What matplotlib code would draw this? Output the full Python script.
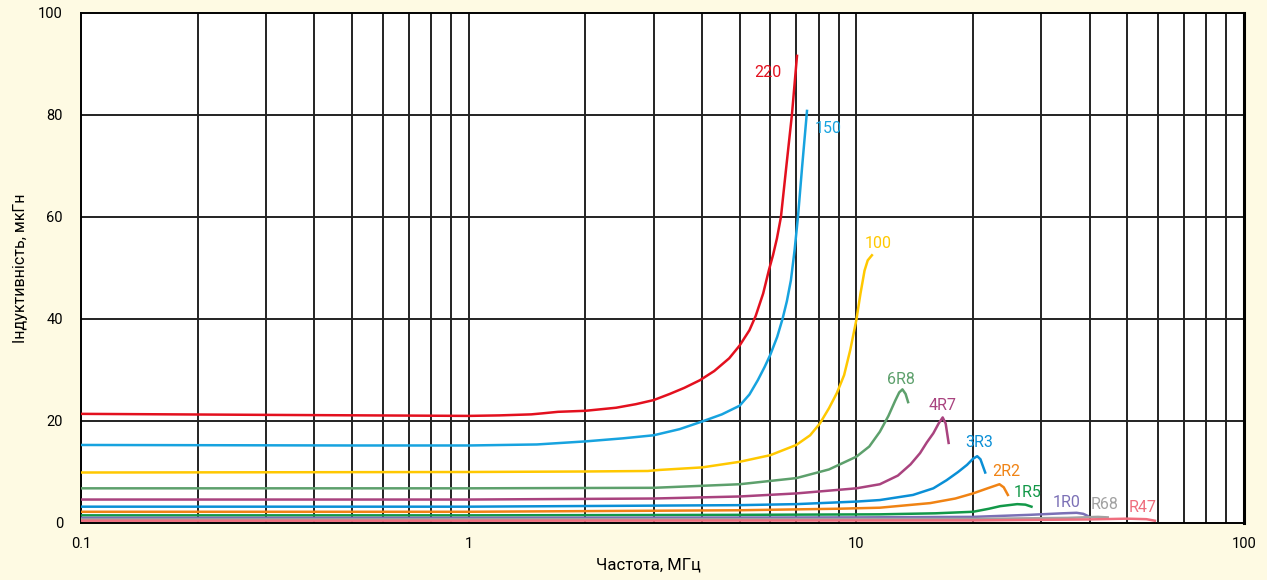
import matplotlib
matplotlib.use("Agg")
import matplotlib.pyplot as plt
from matplotlib.ticker import FixedLocator, NullLocator, FixedFormatter

plt.rcParams['font.family'] = ['Roboto', 'DejaVu Sans']

BG = '#FEFAE3'

# frequency (MHz) / inductance (uH) for each part
f_220 = [0.1, 0.3, 1.0, 1.2, 1.45, 1.55, 1.7, 2.0, 2.4, 2.7, 3.0, 3.3, 3.6, 3.95, 4.3,
         4.7, 5.0, 5.3, 5.5, 5.75, 5.95, 6.1, 6.24, 6.39, 6.6, 6.82, 7.03]
L_220 = [21.4, 21.2, 21.0, 21.1, 21.3, 21.5, 21.8, 22.0, 22.6, 23.3, 24.1, 25.3, 26.5, 28.0, 29.8,
         32.3, 34.8, 37.8, 40.6, 45.0, 49.6, 52.6, 55.8, 60.0, 70.0, 80.0, 91.6]

f_150 = [0.1, 0.5, 1.0, 1.5, 2.0, 2.5, 3.0, 3.5, 4.0, 4.5, 5.0, 5.3, 5.57, 5.8, 6.0,
         6.25, 6.45, 6.62, 6.78, 6.93, 7.07, 7.25, 7.46]
L_150 = [15.3, 15.2, 15.2, 15.4, 16.0, 16.6, 17.2, 18.4, 19.9, 21.3, 23.0, 25.2, 28.0, 30.6, 33.0,
         36.5, 40.0, 43.5, 47.6, 53.5, 60.0, 70.0, 80.8]

f_100 = [0.1, 1.0, 2.0, 2.9, 3.1, 4.0, 5.0, 6.0, 7.0, 7.6, 8.05, 8.5, 8.91, 9.3, 9.65,
         10.0, 10.25, 10.5, 10.7, 10.97]
L_100 = [9.9, 10.0, 10.1, 10.2, 10.4, 10.9, 12.0, 13.3, 15.3, 17.2, 19.5, 22.5, 25.5, 29.0, 34.0,
         39.8, 45.0, 49.5, 51.5, 52.5]

f_6R8 = [0.1, 1.0, 3.0, 5.0, 7.0, 8.5, 10.0, 10.8, 11.5, 12.1, 12.6, 12.9, 13.15, 13.4, 13.6]
L_6R8 = [6.8, 6.8, 6.9, 7.6, 8.8, 10.5, 13.0, 15.0, 17.9, 21.0, 24.0, 25.6, 26.2, 25.3, 23.7]

f_4R7 = [0.1, 1.0, 3.0, 5.0, 7.0, 10.0, 11.5, 12.8, 13.8, 14.6, 15.2, 15.8, 16.3, 16.7,
         17.0, 17.3]
L_4R7 = [4.6, 4.6, 4.8, 5.2, 5.8, 6.8, 7.6, 9.3, 11.5, 13.7, 15.8, 17.6, 19.5, 20.7,
         19.5, 15.7]

f_3R3 = [0.1, 1.0, 5.0, 7.0, 10.0, 11.5, 14.0, 15.8, 17.1, 18.3, 19.3, 20.0, 20.5, 20.9, 21.5]
L_3R3 = [3.2, 3.2, 3.5, 3.7, 4.2, 4.5, 5.5, 6.8, 8.4, 10.0, 11.4, 12.6, 13.1, 12.5, 9.9]

f_2R2 = [0.1, 1.0, 5.0, 9.0, 11.5, 15.5, 18.0, 20.0, 21.8, 23.4, 24.0, 24.6]
L_2R2 = [2.2, 2.2, 2.5, 2.8, 3.0, 3.9, 4.8, 5.8, 6.8, 7.6, 7.0, 5.5]

f_1R5 = [0.1, 1.0, 5.0, 11.5, 16.0, 20.0, 22.0, 23.5, 26.0, 27.3, 28.3]
L_1R5 = [1.5, 1.5, 1.6, 1.7, 1.9, 2.2, 2.8, 3.3, 3.7, 3.6, 3.2]

f_1R0 = [0.1, 1.0, 10.0, 20.0, 28.0, 34.0, 37.0, 38.5, 39.5]
L_1R0 = [1.0, 1.0, 1.1, 1.2, 1.6, 1.9, 2.0, 1.8, 1.4]

f_R68 = [0.1, 5.0, 20.0, 35.0, 42.0, 44.5]
L_R68 = [0.7, 0.75, 0.8, 1.0, 1.2, 1.1]

f_R47 = [0.1, 1.0, 20.0, 40.0, 50.0, 56.0, 58.9]
L_R47 = [0.45, 0.45, 0.5, 0.7, 0.85, 0.75, 0.45]

names = ['220', '150', '100', '6R8', '4R7', '3R3', '2R2', '1R5', '1R0', 'R68', 'R47']
freqs = [f_220, f_150, f_100, f_6R8, f_4R7, f_3R3, f_2R2, f_1R5, f_1R0, f_R68, f_R47]
inds = [L_220, L_150, L_100, L_6R8, L_4R7, L_3R3, L_2R2, L_1R5, L_1R0, L_R68, L_R47]
colors = ['#E3101E', '#17A3DF', '#FFC800', '#5DA06C', '#A9437F', '#0A8FD6',
          '#F08314', '#129848', '#7B70B6', '#A2A2A2', '#EF6E7E']
label_x = [5.9, 8.45, 11.4, 13.0, 16.7, 20.7, 24.3, 27.7, 34.9, 43.8, 54.8]
label_y = [88.4, 77.3, 54.9, 28.2, 23.1, 15.7, 10.0, 5.9, 4.1, 3.7, 3.1]

x_ticks = [0.1, 1, 10, 100]
x_ticklabels = ['0.1', '1', '10', '100']
y_ticks = [0, 20, 40, 60, 80, 100]

fig = plt.figure(figsize=(12.67, 5.8), dpi=100, facecolor=BG)
ax = fig.add_axes([81/1267, 57/580, (1244-81)/1267, (523-13)/580])
ax.set_facecolor('white')
ax.set_xscale('log')
ax.set_xlim(0.1, 100)
ax.set_ylim(0, 100)

# grid
grid_x = [m * 10.0**e for e in (-1, 0, 1) for m in range(1, 10)][1:]
for gx in grid_x:
    ax.axvline(gx, color='#222222', lw=1.4, zorder=1)
for gy in y_ticks[1:-1]:
    ax.axhline(gy, color='#222222', lw=1.4, zorder=1)

for f, L, c in zip(freqs, inds, colors):
    ax.plot(f, L, color=c, lw=1.8, zorder=3, solid_joinstyle='round')

for n, lx, ly, c in zip(names, label_x, label_y, colors):
    ax.text(lx, ly, n, color=c, fontsize=11.5, ha='center', va='center', zorder=4)

ax.xaxis.set_major_locator(FixedLocator(x_ticks))
ax.xaxis.set_major_formatter(FixedFormatter(x_ticklabels))
ax.xaxis.set_minor_locator(NullLocator())
ax.set_yticks(y_ticks)
ax.tick_params(axis='both', length=0, labelsize=10.5)
ax.tick_params(axis='y', pad=13)
ax.tick_params(axis='x', pad=10)

for s in ['left', 'bottom', 'top']:
    ax.spines[s].set_linewidth(1.4)
ax.spines['right'].set_linewidth(2.2)

ax.set_xlabel('Частота, МГц', fontsize=12)
ax.set_ylabel('Індуктивність, мкГн', fontsize=11.5)
ax.xaxis.set_label_coords((648 - 81) / 1163, (523 - 557) / 510)
ax.yaxis.set_label_coords((28 - 81) / 1163, 0.5)

fig.savefig('out.png', dpi=100, facecolor=BG)
